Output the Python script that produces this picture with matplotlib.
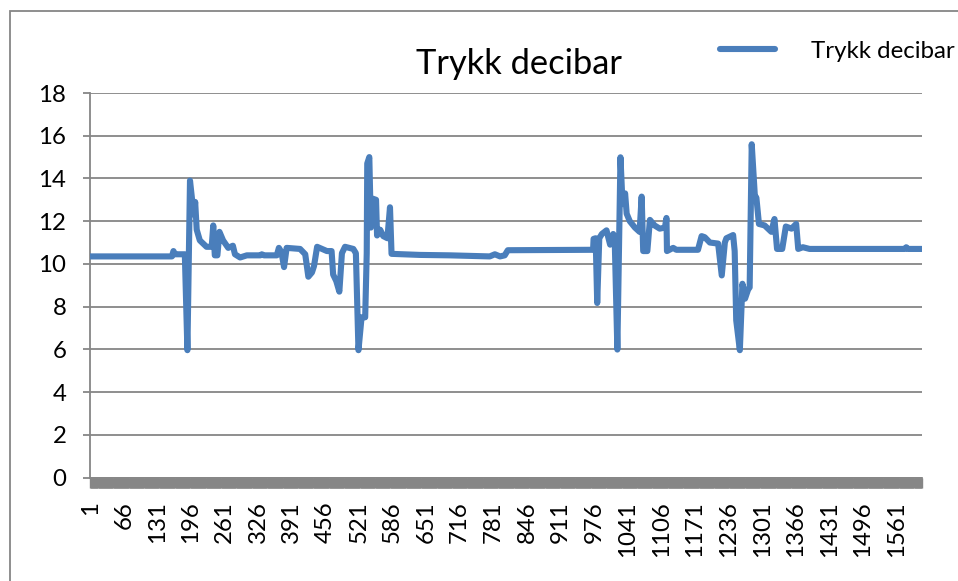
import matplotlib
matplotlib.use("Agg")
import matplotlib.pyplot as plt
from matplotlib.patches import Rectangle
from matplotlib.ticker import FixedLocator, NullFormatter
import numpy as np

# ---- data (category index, pressure in decibar) ----
n_points = 1610
sample_index = [
    1, 159, 162, 165, 184, 189, 194, 199, 202, 204, 207, 213, 226, 236, 239, 242,
    247, 251, 258, 268, 277, 281, 291, 304, 330, 333, 337, 362, 366, 371, 376, 381,
    407, 417, 423, 430, 434, 440, 459, 468, 471, 477, 483, 488, 494, 510, 515, 520,
    526, 533, 536, 537, 541, 544, 548, 554, 556, 562, 568, 576, 581, 584, 639, 697,
    774, 784, 794, 803, 809, 974, 975, 979, 982, 986, 991, 1000, 1007, 1013, 1016,
    1021, 1027, 1031, 1036, 1039, 1045, 1055, 1064, 1068, 1071, 1079, 1084, 1093,
    1103, 1113, 1116, 1117, 1129, 1135, 1177, 1184, 1190, 1200, 1216, 1223, 1229,
    1232, 1245, 1248, 1251, 1258, 1263, 1268, 1274, 1277, 1281, 1287, 1290, 1295,
    1306, 1319, 1325, 1330, 1340, 1347, 1358, 1367, 1371, 1380, 1393, 1577, 1580,
    1583, 1610,
]
pressure = [
    10.35, 10.35, 10.6, 10.45, 10.45, 5.96, 13.9, 12.8, 12.3, 12.9, 11.6, 11.1, 10.8, 10.8, 11.8, 10.4,
    10.4, 11.5, 11.1, 10.75, 10.85, 10.45, 10.3, 10.4, 10.4, 10.45, 10.4, 10.4, 10.75, 10.55, 9.85, 10.75,
    10.7, 10.45, 9.4, 9.6, 9.9, 10.8, 10.6, 10.6, 9.5, 9.2, 8.7, 10.5, 10.8, 10.7, 10.5, 5.96,
    7.5, 7.5, 10.5, 14.7, 15.0, 11.7, 13.05, 13.0, 11.33, 11.6, 11.3, 11.2, 12.65, 10.47, 10.42, 10.4,
    10.35, 10.45, 10.35, 10.4, 10.64, 10.66, 11.17, 11.2, 8.17, 11.2, 11.4, 11.57, 10.9, 11.4, 11.0,
    5.99, 14.99, 12.8, 13.3, 12.35, 12.0, 11.7, 11.5, 13.15, 10.6, 10.6, 12.06, 11.8,
    11.65, 11.7, 12.15, 10.6, 10.75, 10.66, 10.66, 11.3, 11.25, 11.0, 10.95, 9.46, 11.0,
    11.2, 11.35, 10.6, 7.36, 5.96, 9.07, 8.37, 8.8, 8.9, 15.6, 13.2, 13.1, 11.87,
    11.8, 11.5, 12.1, 10.7, 10.7, 11.75, 11.65, 11.87, 10.7, 10.78, 10.7, 10.7, 10.78,
    10.7, 10.7,
]
series_name = "Trykk decibar"
chart_title = "Trykk decibar"
y_ticks = [0, 2, 4, 6, 8, 10, 12, 14, 16, 18]
x_tick_labels = list(range(1, n_points + 1, 65))

# ---- style ----
W, H, DPI = 958, 581, 100
grid_c = "#868686"
line_c = "#4A7EBB"
font = "Lato"
tick_fs = 17.3

fig = plt.figure(figsize=(W / DPI, H / DPI), dpi=DPI)
fig.patch.set_facecolor("white")
ax = fig.add_axes([90 / W, 1 - 477.5 / H, (922 - 90) / W, (477.5 - 93) / H])

ax.plot(sample_index, pressure, color=line_c, lw=4.4, solid_joinstyle="round",
        solid_capstyle="round", label=series_name, zorder=3)

ax.set_xlim(0.5, n_points + 0.5)
ax.set_ylim(0, 18)
ax.set_yticks(y_ticks)
ax.set_yticklabels([str(v) for v in y_ticks], fontsize=tick_fs, family=font)
ax.yaxis.grid(True, color=grid_c, lw=1.3, zorder=1)
ax.set_axisbelow(True)

ax.set_xticks(x_tick_labels)
ax.set_xticklabels([str(v) for v in x_tick_labels], rotation=90, fontsize=tick_fs, family=font)
ax.xaxis.set_minor_locator(FixedLocator(np.arange(1, n_points + 1)))
ax.xaxis.set_minor_formatter(NullFormatter())
ax.tick_params(axis="x", which="both", length=7, width=1.0, color=grid_c,
               direction="out", pad=10)
ax.tick_params(axis="y", length=5, width=1.3, color=grid_c, direction="out", pad=12)

for s in ["top", "right"]:
    ax.spines[s].set_visible(False)
ax.spines["left"].set_color(grid_c)
ax.spines["left"].set_linewidth(1.3)
ax.spines["bottom"].set_color(grid_c)
ax.spines["bottom"].set_linewidth(1.3)

fig.text(519.5 / W, 1 - 64 / H, chart_title, ha="center", va="center",
         fontsize=24.8, family=font)

fig.legend(loc="center left", bbox_to_anchor=(720 / W, 1 - 51 / H), frameon=False,
           prop={"family": font, "size": tick_fs}, handlelength=2.3, handletextpad=1.5,
           borderpad=0, borderaxespad=0)

fig.add_artist(Rectangle((10 / W, -0.1), 1.2, (1 - 11 / H) + 0.1, transform=fig.transFigure,
                         fill=False, edgecolor=grid_c, lw=1.3, clip_on=False))

fig.savefig("out.png", dpi=DPI, facecolor="white")
